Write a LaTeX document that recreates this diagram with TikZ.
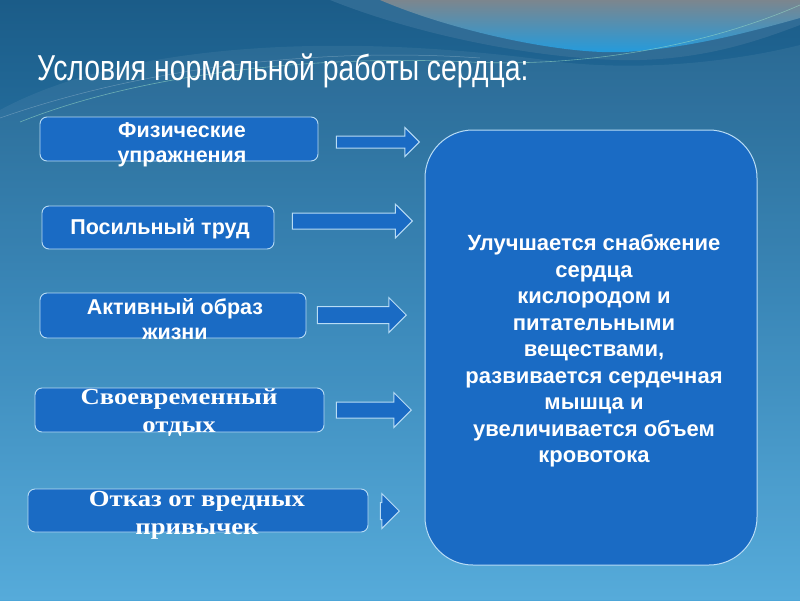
\documentclass[tikz,border=0pt]{standalone}
\usepackage{fontspec}
\setmainfont{Liberation Sans}
\newfontfamily\serifru{Liberation Serif}
\usetikzlibrary{shapes.arrows}
\definecolor{bgtop}{HTML}{1B5C88}
\definecolor{bgmid}{HTML}{2E80B4}
\definecolor{bgbot}{HTML}{4CA6D8}
\definecolor{boxblue}{HTML}{1A6BC4}
\definecolor{edgeblue}{HTML}{B8DCF5}
\definecolor{wavegray}{HTML}{7C868E}
\definecolor{wavelight}{HTML}{1F9CE0}
\definecolor{wavemid}{HTML}{346F98}
\definecolor{wavegreen}{HTML}{9FE3C8}
\tikzset{
  smallbox/.style={draw=edgeblue, line width=0.9pt, fill=boxblue, rounded corners=7pt, inner sep=0pt},
  bigbox/.style={draw=edgeblue, line width=1pt, fill=boxblue, rounded corners=48pt, inner sep=0pt},
  sanslbl/.style={text=white, font=\fontsize{21.5}{25}\selectfont\bfseries, align=center, inner sep=0pt},
  seriflbl/.style={text=white, font=\serifru\fontsize{23}{28}\selectfont\bfseries, align=center, inner sep=0pt},
  blockarrow/.style={single arrow, draw=edgeblue, line width=1pt, fill=boxblue, inner xsep=0pt, inner ysep=7.5pt, single arrow head indent=0pt, single arrow head extend=9pt, anchor=tip},
}
\newcommand{\wideser}[1]{\scalebox{1.16}[1]{#1}}
\begin{document}
\begin{tikzpicture}[x=1pt,y=-1pt]
\useasboundingbox (0,0) rectangle (800,600);
% background
\shade[top color=bgtop, bottom color=bgbot, middle color=bgmid] (0,0) rectangle (800,600);
% left dome highlight
\fill[white, opacity=0.06] (0,110) .. controls (120,45) and (330,30) .. (560,62) .. controls (650,72) and (740,60) .. (800,45) -- (800,600) -- (0,600) -- cycle;
% darker band below the top wave
\fill[wavemid, opacity=0.85] (330,0) .. controls (430,40) and (560,62) .. (640,60) .. controls (710,58) and (760,40) .. (800,25) -- (800,0) -- cycle;
% top light wave
\shade[top color=wavegray, bottom color=wavelight] (380,0) .. controls (450,30) and (560,55) .. (625,52) .. controls (690,48) and (750,32) .. (800,18) -- (800,0) -- cycle;
% thin light lines
\draw[wavegreen, opacity=0.55, line width=0.6pt] (20,122) .. controls (150,70) and (330,55) .. (470,62) .. controls (600,68) and (720,40) .. (800,5);
\draw[white, opacity=0.25, line width=0.5pt] (0,118) .. controls (160,62) and (340,48) .. (480,58);
% title
\node[anchor=base west, text=white, inner sep=0pt, font=\fontsize{36}{42}\selectfont] (title) at (37,80) {\scalebox{0.787}[1]{Условия нормальной работы сердца:}};
% left boxes
\node[smallbox, minimum width=278pt, minimum height=44pt] (b1) at (179,139) {};
\node[sanslbl] (t1) at (182,145) {Физические\\упражнения};
\node[smallbox, minimum width=232pt, minimum height=43pt] (b2) at (158,227.5) {};
\node[sanslbl] (t2) at (160,229) {Посильный труд};
\node[smallbox, minimum width=266pt, minimum height=45pt] (b3) at (173,315.5) {};
\node[sanslbl] (t3) at (175,319) {Активный образ\\жизни};
\node[smallbox, minimum width=289pt, minimum height=44pt] (b4) at (179.5,410) {};
\node[seriflbl] (t4) at (179,413) {\wideser{Своевременный}\\\wideser{отдых}};
\node[smallbox, minimum width=340pt, minimum height=43pt] (b5) at (198,510.5) {};
\node[seriflbl] (t5) at (197,515) {\wideser{Отказ от вредных}\\\wideser{привычек}};
% arrows
\node[blockarrow, minimum height=83pt, inner ysep=5.5pt, single arrow head extend=8.5pt] (a1) at (420,142) {};
\node[blockarrow, minimum height=120pt] (a2) at (413,221) {};
\node[blockarrow, minimum height=89pt, inner ysep=8pt] (a3) at (407,315) {};
\node[blockarrow, minimum height=75pt, single arrow head extend=9.5pt] (a4) at (412,410) {};
\node[blockarrow, minimum height=19pt, inner ysep=8pt] (a5) at (400,511) {};
% big box
\node[bigbox, minimum width=332pt, minimum height=435pt] (big) at (591,347.5) {};
\node[text=white, font=\fontsize{22}{26.5}\selectfont\bfseries, align=center, inner sep=0pt] (bigtext) at (594,351) {Улучшается снабжение\\сердца\\кислородом и\\питательными\\веществами,\\развивается сердечная\\мышца и\\увеличивается объем\\кровотока};
\end{tikzpicture}
\end{document}
